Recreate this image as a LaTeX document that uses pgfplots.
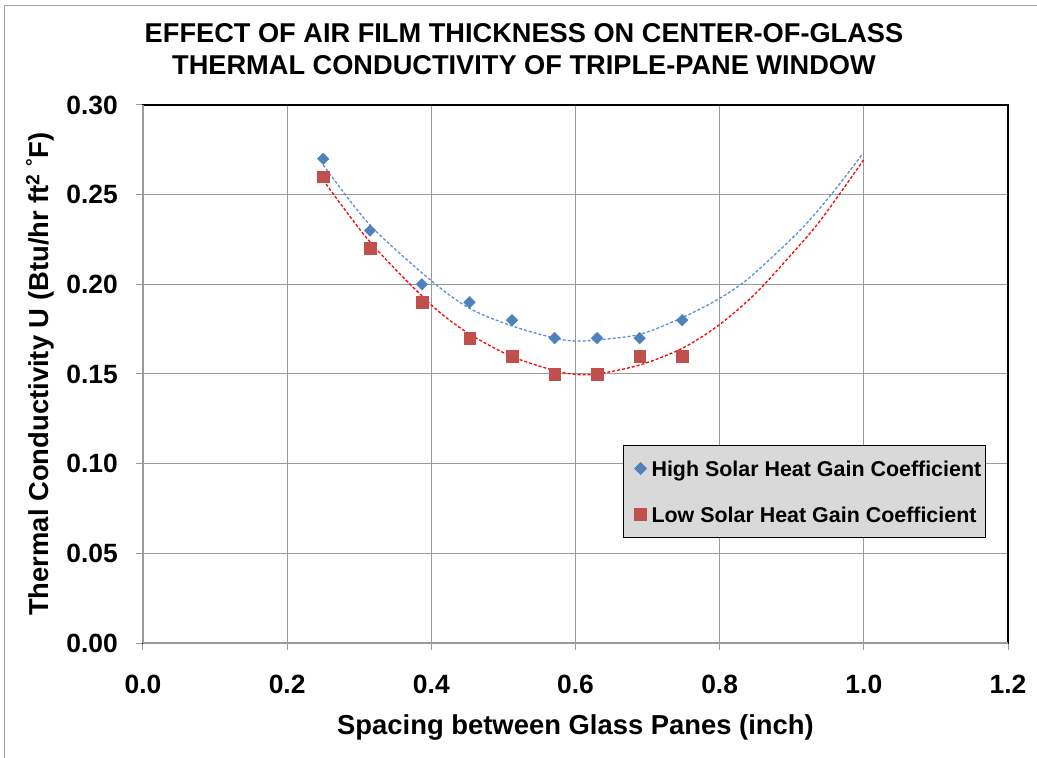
\documentclass[border=0pt]{standalone}
\usepackage{fontspec}
\setmainfont{Liberation Sans}
\usepackage{pgfplots}
\pgfplotsset{compat=1.18}
\definecolor{hiblue}{HTML}{4F81BD}
\definecolor{lored}{HTML}{C0504D}
\definecolor{trblue}{HTML}{5B8FD8}
\definecolor{trred}{HTML}{FF0000}
\definecolor{gridgray}{HTML}{9A9A9A}
\definecolor{leggray}{HTML}{D9D9D9}
\definecolor{framegray}{HTML}{A0A0A0}

\pgfplotstableread{
x y
0.25 0.27
0.315 0.23
0.387 0.20
0.453 0.19
0.512 0.18
0.571 0.17
0.630 0.17
0.689 0.17
0.748 0.18
}\highdata

\pgfplotstableread{
x y
0.25 0.26
0.315 0.22
0.387 0.19
0.453 0.17
0.512 0.16
0.571 0.15
0.630 0.15
0.689 0.16
0.748 0.16
}\lowdata

\pgfplotstableread{
x y
0.250 0.2666
0.315 0.2330
0.400 0.2020
0.453 0.1866
0.512 0.1768
0.571 0.1700
0.600 0.1684
0.630 0.1690
0.689 0.1721
0.748 0.1814
0.800 0.1922
0.843 0.2043
0.912 0.2303
0.958 0.2517
0.997 0.2721
}\hightrend

\pgfplotstableread{
x y
0.250 0.2582
0.315 0.2236
0.400 0.1885
0.453 0.1723
0.512 0.1597
0.571 0.1519
0.600 0.1498
0.630 0.1500
0.689 0.1550
0.748 0.1643
0.800 0.1776
0.850 0.1950
0.900 0.2169
0.935 0.2332
0.967 0.2507
0.9995 0.2693
}\lowtrend

\begin{document}
\begin{tikzpicture}
\path[use as bounding box] (-143bp,-115bp) rectangle (894bp,643bp);
\fill[white] (-143bp,-115bp) rectangle (894bp,643bp);
\draw[framegray, line width=1.2bp] (-138.5bp,-115bp) -- (-138.5bp,637.5bp) -- (894bp,637.5bp);
\begin{axis}[
  at={(0,0)}, anchor=south west,
  scale only axis,
  width=865bp, height=538bp,
  xmin=0, xmax=1.2, ymin=0, ymax=0.30,
  xtick={0,0.2,...,1.21}, ytick={0,0.05,...,0.301},
  xtick pos=bottom, ytick pos=left,
  grid=major,
  major grid style={gridgray, line width=1bp},
  axis line style={black, line width=1.2bp},
  tick align=outside,
  major tick length=7bp,
  tick style={gridgray, line width=1bp},
  /pgf/number format/assume math mode=true,
  xticklabel={\pgfmathprintnumber[fixed,fixed zerofill,precision=1]{\tick}},
  yticklabel={\pgfmathprintnumber[fixed,fixed zerofill,precision=2]{\tick}},
  ticklabel style={font=\bfseries\fontsize{26.5}{30}\selectfont},
  xticklabel style={anchor=north, inner sep=0pt, yshift=-25bp},
  yticklabel style={anchor=east, inner sep=0pt, xshift=-18bp},
  xlabel={Spacing between Glass Panes (inch)},
  ylabel={Thermal Conductivity U (Btu/hr ft\textsuperscript{2} \textsuperscript{°}F)},
  label style={font=\bfseries\fontsize{27.5}{31}\selectfont},
  xlabel style={at={(axis description cs:0.5,0)}, anchor=center, yshift=-84bp},
  ylabel style={at={(axis description cs:-0.1191,0.5)}, anchor=center},
  legend style={at={(axis description cs:0.555,0.368)}, anchor=north west,
    fill=leggray, draw=black, line width=1bp,
    font=\bfseries\fontsize{21.5}{25}\selectfont,
    inner xsep=4bp, inner ysep=15bp, row sep=30bp,
    nodes={inner sep=0pt, text height=16bp, text depth=0bp},
    cells={anchor=west}},
  legend image code/.code={\path[draw=none, fill=none] (0bp,-4bp) rectangle (24bp,4bp); \draw[#1] plot coordinates {(13bp,0bp)};},
  clip=false,
]
\addplot[trblue, line width=1.3bp, dash pattern=on 3bp off 2bp, smooth, forget plot] table {\hightrend};
\addplot[trred, line width=1.3bp, dash pattern=on 3bp off 2bp, smooth, forget plot] table {\lowtrend};
\addplot[only marks, mark=square*, mark size=4.1bp, mark options={rotate=45, fill=hiblue, draw=hiblue}] table {\highdata};
\addlegendentry{High Solar Heat Gain Coefficient}
\addplot[only marks, mark=square*, mark size=5.8bp, mark options={fill=lored, draw=lored}] table {\lowdata};
\addlegendentry{Low Solar Heat Gain Coefficient}
\end{axis}
\draw[gridgray, line width=1.2bp] (0,0) -- (0,538bp);
\draw[gridgray, line width=1.2bp] (0,0) -- (865bp,0);
\node[font=\bfseries\fontsize{27.3}{32}\selectfont, align=center] at (381bp,594bp) {EFFECT OF AIR FILM THICKNESS ON CENTER-OF-GLASS\\THERMAL CONDUCTIVITY OF TRIPLE-PANE WINDOW};
\end{tikzpicture}
\end{document}
